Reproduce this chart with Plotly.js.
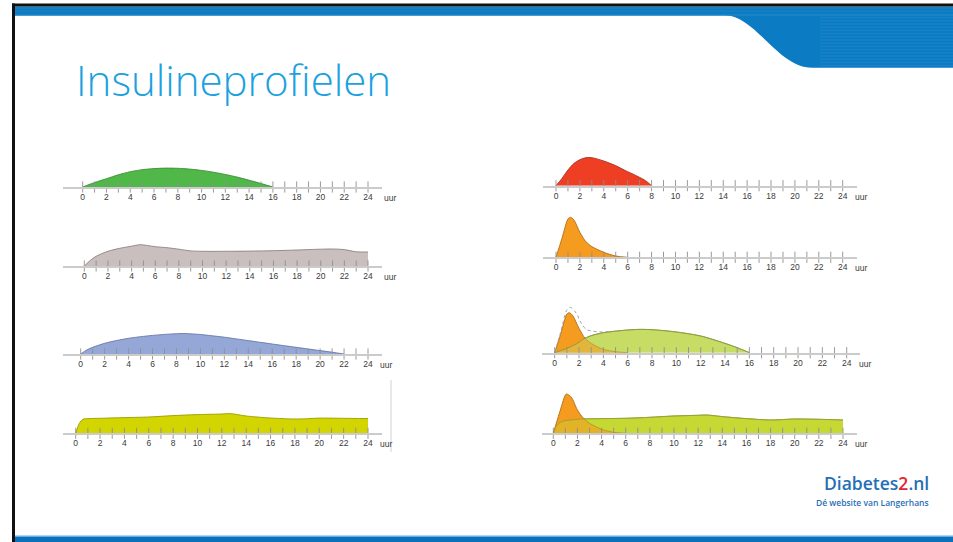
<!DOCTYPE html>
<html>
<head>
<meta charset="utf-8">
<script src="https://cdn.plot.ly/plotly-3.0.1.min.js"></script>
<style>html,body{margin:0;padding:0;overflow:hidden;background:#fff}#chart{width:953px;height:542px}</style>
</head>
<body>
<div id="chart"></div>
<script>
// ---------- data (hours / relative insulin activity) ----------
const tickHours = [0,1,2,3,4,5,6,7,8,9,10,11,12,13,14,15,16,17,18,19,20,21,22,23,24];
const labelHours = [0,2,4,6,8,10,12,14,16,18,20,22,24];
const labelText = ['0','2','4','6','8','10','12','14','16','18','20','22','24'];
const unitLabel = 'uur';
const titleText = 'Insulineprofielen';

// panel 1 – green (intermediate)
const greenX = [0,1,2,3,4,5,6,7,8,9,10,11,12,13,14,15,16];
const greenY = [0,4.5,8.3,12.2,15.3,17.3,18.4,18.9,18.7,17.9,16.6,14.8,12.5,9.9,6.8,3.5,0];
// panel 2 – grey (long acting)
const greyX = [0,0.5,1,2,3,4,4.7,6,7,8,9,10,12,14,16,18,20,21,22,23,24];
const greyY = [0,5.5,9.7,14.7,17.7,19.8,21.3,19.3,18.3,16.8,15.1,14.7,14.7,14.9,15.3,16,16.8,17,16.4,14.2,14];
// panel 3 – blue (long acting)
const blueX = [0,0.5,1,2,3,4,5,6,7,8,8.5,9,10,11,12,13,14,15,16,17,18,19,20,21,22];
const blueY = [0,4,6.7,10.7,13.5,15.7,17.3,18.6,19.6,20.3,20.5,20.3,19.5,18.2,16.8,15.1,13.4,11.7,10,8.3,6.7,5,3.4,1.8,0];
// panel 4 – yellow (long acting)
const yellowX = [0,0.3,0.6,1,2,4,6,8,10,12,12.7,14,16,18,19,20,22,24];
const yellowY = [0,10,14,14.7,15,15.7,16.3,17.7,18.7,19.3,19.7,17.3,15.3,14.3,14.6,15.2,15,14.7];
// panel 5 – red (short acting)
const redX = [0,0.5,1,1.5,2,2.5,3,4,5,6,6.5,7,7.5,8];
const redY = [0,7.3,15.7,22.3,26,28,28,24.7,20,14,11.3,8.3,5,0];
// panel 6 – orange (rapid acting)
const orangeX = [0,0.5,1,1.2,1.5,2,2.5,3,4,5,6];
const orangeY = [0,19,38.3,40,37.3,25,15.7,10.7,5,1.3,0];
// panel 7 – mix: rapid + intermediate + combined (dotted)
const mixRapidX = [0,0.5,1,1.2,1.5,2,2.5,3,4,5,6];
const mixRapidY = [0,19,38.7,40,36.7,24.3,14.3,9.3,3.3,1,0];
const mixInterX = [0,1,2,2.3,3,4,6,7,8,10,12,14,15,16];
const mixInterY = [0,4.3,10.3,13.3,17,20,22.7,23.3,23,20.7,16.7,9.3,5,0];
const mixTotalX = [0,0.5,1,1.3,1.8,2.2,2.6,3,3.5,4,4.5];
const mixTotalY = [0,21,42.7,45.3,39,29,23.3,21.7,21,20.7,21.2];
// panel 8 – rapid + long acting
const basalRapidX = [0,0.5,1,1.1,1.5,2,2.5,3,4,5,6];
const basalRapidY = [0,20,38.3,39.3,36,23.3,15,10,4,1,0];
const basalLongX = [0,0.3,0.7,1,2,2.3,4,6,8,10,12,12.7,14,16,18,20,22,24];
const basalLongY = [0,8,11.7,12.7,14,14.3,14.7,15,16,17.3,18,18.3,16.7,14.7,13.3,14.3,14,13.3];

// ---------- layout helpers ----------
const W = 953, H = 542;
const fx = x => x / W, fy = y => 1 - y / H;
const panels = [
  {id:1, ls:63,  le:382, x0:82.7,  x24:368,   base:187,   uur:14},
  {id:2, ls:63,  le:382, x0:84.3,  x24:368,   base:266,   uur:14},
  {id:3, ls:63,  le:382, x0:80.7,  x24:368,   base:354,   uur:10},
  {id:4, ls:63,  le:382, x0:75.7,  x24:368,   base:433.3, uur:10},
  {id:5, ls:543, le:857, x0:556,   x24:842.7, base:185.7, uur:10},
  {id:6, ls:543, le:857, x0:556,   x24:842.7, base:257.3, uur:10},
  {id:7, ls:542, le:860, x0:554.7, x24:846.7, base:352.7, uur:10},
  {id:8, ls:542, le:857, x0:553.3, x24:843,   base:433.3, uur:10}
];
const sfx = i => (i === 1 ? '' : String(i));

const layout = {
  width: W, height: H,
  margin: {l:0, r:0, t:0, b:0},
  paper_bgcolor: '#ffffff',
  plot_bgcolor: 'rgba(0,0,0,0)',
  showlegend: false,
  shapes: [],
  annotations: []
};

const traces = [];
function area(id, x, y, fill, line, extra) {
  traces.push(Object.assign({
    type: 'scatter', mode: 'lines', x: x, y: y,
    xaxis: 'x' + sfx(id), yaxis: 'y' + sfx(id),
    fill: 'tozeroy', fillcolor: fill,
    line: {color: line, width: 0.9, shape: 'spline', smoothing: 0.8},
    hoverinfo: 'skip'
  }, extra || {}));
}

panels.forEach(p => {
  const pph = (p.x24 - p.x0) / 24;
  layout['xaxis' + sfx(p.id)] = {
    domain: [fx(p.ls), fx(p.le)],
    range: [-(p.x0 - p.ls) / pph, 24 + (p.le - p.x24) / pph],
    anchor: 'y' + sfx(p.id),
    showline: true, linecolor: '#cbcbcb', linewidth: 1.8,
    ticks: 'outside', ticklen: 1, tickcolor: 'rgba(0,0,0,0)',
    tickvals: labelHours, ticktext: labelText,
    tickfont: {family: 'Liberation Sans, Arial, sans-serif', size: 8.5, color: '#3a3a3a'},
    showgrid: false, zeroline: false, fixedrange: true, automargin: false
  };
  layout['yaxis' + sfx(p.id)] = {
    domain: [fy(p.base), fy(p.base - 46)],
    range: [0, 46], anchor: 'x' + sfx(p.id),
    visible: false, fixedrange: true
  };
  layout.annotations.push({
    xref: 'x' + sfx(p.id), yref: 'y' + sfx(p.id), x: 24, y: 0,
    text: unitLabel, showarrow: false, xanchor: 'left', yanchor: 'middle',
    xshift: p.uur, yshift: -11,
    font: {family: 'Liberation Sans, Arial, sans-serif', size: 8.5, color: '#3a3a3a'}
  });
});

// areas
area(1, greenX, greenY, '#50b848', '#3d8d37');
area(2, greyX, greyY, '#c9bfbf', '#8c8282');
area(3, blueX, blueY, '#94a7d7', '#6677a8');
area(4, yellowX, yellowY, '#d2d500', '#9c9d00');
area(5, redX, redY, '#ee3e24', '#a8301c');
area(6, orangeX, orangeY, '#f49b20', '#b06d15');
// panel 7
area(7, mixInterX, mixInterY, '#c7dc64', '#8a9a40');
area(7, mixRapidX, mixRapidY, '#f49b20', '#b06d15');
area(7, mixInterX, mixInterY, 'rgba(199,220,100,0.42)', '#8a9a40');
traces.push({type:'scatter', mode:'lines', x: mixTotalX, y: mixTotalY, xaxis:'x7', yaxis:'y7',
  line:{color:'#a0a0a0', width:1, dash:'dot', shape:'spline', smoothing:0.8}, hoverinfo:'skip', cliponaxis:false});
// panel 8
area(8, basalLongX, basalLongY, '#c6d834', '#96a035');
area(8, basalRapidX, basalRapidY, '#f49b20', '#b06d15');
area(8, basalLongX, basalLongY, 'rgba(198,216,52,0.38)', '#96a035');

// hour tick marks crossing the axis line
panels.forEach(p => {
  traces.push({
    type: 'scatter', mode: 'markers', x: tickHours, y: tickHours.map(() => 0),
    xaxis: 'x' + sfx(p.id), yaxis: 'y' + sfx(p.id), cliponaxis: false,
    marker: {symbol: 'line-ns', size: 8, line: {color: '#8f8f8f', width: 0.9}},
    hoverinfo: 'skip'
  });
});

// ---------- slide decoration ----------
const S = layout.shapes;
function rectPx(x0, y0, x1, y1, color) {
  S.push({type:'rect', xref:'paper', yref:'paper', x0:fx(x0), x1:fx(x1), y0:fy(y1), y1:fy(y0),
    fillcolor: color, line:{width:0}, layer:'below'});
}
rectPx(15, 6.5, 953, 15.7, '#0b7bc3');
// wave
function P(x, y) { return fx(x) + ',' + fy(y); }
S.push({type:'path', xref:'paper', yref:'paper', layer:'below',
  path: 'M' + P(725,15.2) + ' C' + P(755,15.2) + ' ' + P(778,67.7) + ' ' + P(812,67.7) +
        ' L' + P(953,67.7) + ' L' + P(953,15.2) + ' Z',
  fillcolor:'#0b7bc3', line:{width:0}});
// subtle stripes
for (let y = 8; y < 67; y += 3.2) {
  S.push({type:'line', xref:'paper', yref:'paper', layer:'below',
    x0: fx(y < 15.5 ? 15 : 820), x1: fx(953), y0: fy(y), y1: fy(y),
    line:{color:'rgba(60,150,210,0.35)', width:1}});
}
rectPx(12, 3.5, 953, 6.5, '#111111');
rectPx(12, 3.5, 15, 542, '#111111');
rectPx(15, 536, 953, 542, '#0a72bc');
rectPx(15, 535.5, 953, 537, '#63b0e0');
// thin grey separator near lower-left chart
S.push({type:'line', xref:'paper', yref:'paper', x0:fx(391), x1:fx(391), y0:fy(380), y1:fy(452),
  line:{color:'#d2d2d2', width:1}});

// title and logo
layout.annotations.push({
  xref:'paper', yref:'paper', x: fx(74), y: fy(79), xanchor:'left', yanchor:'middle',
  text: titleText, showarrow:false,
  font:{family:'Open Sans, Lato, sans-serif', size:42, weight:300, color:'#1ba1df'}
});
layout.annotations.push({
  xref:'paper', yref:'paper', x: fx(931), y: fy(483), xanchor:'right', yanchor:'middle',
  text: 'Diabetes<span style="color:#e3262b">2</span>.nl', showarrow:false,
  font:{family:'Open Sans, sans-serif', size:17.5, weight:600, color:'#2470b6'}
});
layout.annotations.push({
  xref:'paper', yref:'paper', x: fx(931), y: fy(502.5), xanchor:'right', yanchor:'middle',
  text: 'Dé website van Langerhans', showarrow:false,
  font:{family:'Open Sans, sans-serif', size:8.5, weight:600, color:'#2a6fb4'}
});

Plotly.newPlot('chart', traces, layout, {staticPlot:true, displayModeBar:false});
</script>
</body>
</html>
